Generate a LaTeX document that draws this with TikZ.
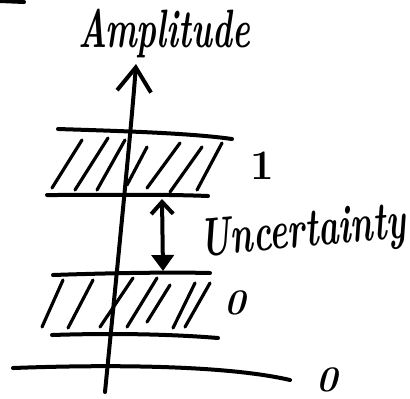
\documentclass[tikz,border=0pt]{standalone}
\usetikzlibrary{positioning, calc, arrows.meta}

\tikzset{
  mano/.style={line width=2pt, line cap=round, line join=round},
  tratto/.style={line width=1.6pt, line cap=round},
  scritta/.style={font=\fontsize{18}{20}\selectfont\bfseries\itshape, inner sep=0pt},
  grande/.style={font=\fontsize{27}{30}\selectfont\bfseries\itshape, inner sep=0pt}
}

\begin{document}
\begin{tikzpicture}[x=0.5pt,y=-0.5pt]
        \useasboundingbox (0,0) rectangle (410,398);
        %segno in alto a sinistra
        \draw[mano] (0,1)--++ (24,1);
        %scritta asse
        \node[grande,xscale=0.62] (amp) at (164,34) {Amplitude};
        %disegno asse y
        \coordinate (base) at (105,392);
        \coordinate (punta) at (136,64);
        \draw[mano,-{Straight Barb[length=12pt,width=17pt,line width=2pt]}] (base)..controls (118,260) and (132,120).. (punta);
        %disegno banda 1
        \draw[mano] (58,129)..controls (120,131) and (190,133).. (232,139);
        \draw[mano] (47,195)..controls (100,195) and (160,194).. (208,196);
        \foreach \xa/\ya/\xb/\yb in {52/188/82/140, 75/190/108/138, 97/190/125/140, 127/185/147/147, 147/188/180/143, 170/192/202/147, 197/190/222/143}
          \draw[tratto] (\xa,\ya)--(\xb,\yb);
        \node[scritta,font=\fontsize{21}{24}\selectfont\bfseries] (uno) at (262,166) {1};
        %disegno incertezza
        \coordinate (sopra) at (162,199);
        \coordinate (sotto) at (163,271);
        \draw[mano,{Straight Barb[length=6pt,width=11pt]}-{Triangle[length=8pt,width=11pt]}] (sopra)--(sotto);
        \node[grande,rotate=5,xscale=0.64] (inc) at (303,234) {Uncertainty};
        %disegno banda 0
        \draw[mano] (53,275)..controls (110,273) and (170,272).. (210,273);
        \draw[mano] (52,335)..controls (110,333) and (170,334).. (218,338);
        \foreach \xa/\ya/\xb/\yb in {42/327/63/280, 68/328/93/280, 100/327/133/278, 127/327/157/278, 147/322/170/285, 173/328/195/283, 185/327/210/283}
          \draw[tratto] (\xa,\ya)--(\xb,\yb);
        \node[scritta] (zero) at (235,303) {0};
        %disegno asse x
        \draw[mano] (13,368)..controls (120,364) and (230,366).. (290,380);
        \node[scritta] (zerox) at (327,380) {0};
\end{tikzpicture}
\end{document}
